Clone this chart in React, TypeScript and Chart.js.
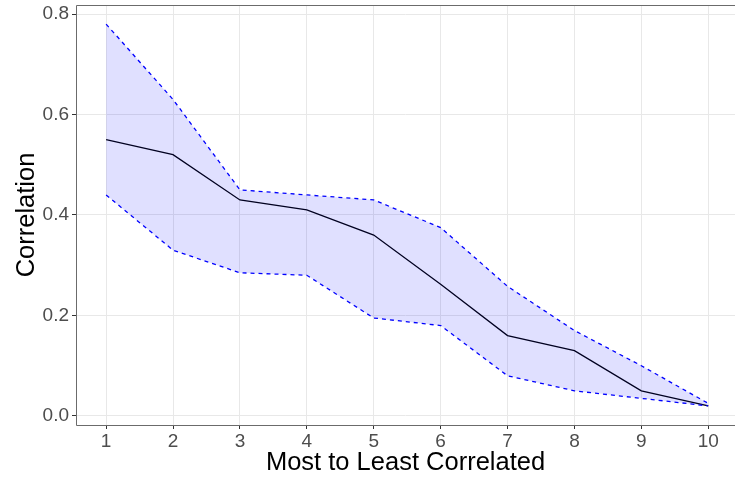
import React, { useEffect, useRef } from 'react';
import { Chart, registerables } from 'chart.js';

Chart.register(...registerables);

const ranks = [1, 2, 3, 4, 5, 6, 7, 8, 9, 10];
const meanCorr = [0.55, 0.52, 0.43, 0.41, 0.36, 0.262, 0.16, 0.13, 0.05, 0.02];
const upperCorr = [0.78, 0.63, 0.45, 0.44, 0.43, 0.375, 0.258, 0.17, 0.1, 0.025];
const lowerCorr = [0.44, 0.33, 0.285, 0.28, 0.195, 0.18, 0.08, 0.05, 0.035, 0.02];
const yTicks = [0, 0.2, 0.4, 0.6, 0.8];
const xTitle = 'Most to Least Correlated';
const yTitle = 'Correlation';

const FONT = "'Liberation Sans', Arial, Helvetica, sans-serif";

const panelBorder = {
  id: 'panelBorder',
  afterDraw(chart: any) {
    const { ctx, chartArea } = chart;
    const { left, top, right, bottom } = chartArea;
    ctx.save();
    ctx.strokeStyle = '#6b6b6b';
    ctx.lineWidth = 1;
    ctx.beginPath();
    ctx.rect(left + 0.5, top + 0.5, right - left, bottom - top);
    ctx.stroke();
    ctx.restore();
  },
};

export default function App() {
  const ref = useRef<HTMLCanvasElement | null>(null);

  useEffect(() => {
    if (!ref.current) return;
    const pts = (arr: number[]) => ranks.map((r, i) => ({ x: r, y: arr[i] }));
    const chart = new Chart(ref.current, {
      type: 'line',
      data: {
        datasets: [
          {
            label: 'upper',
            data: pts(upperCorr),
            borderColor: '#0000ff',
            borderWidth: 1.3,
            borderDash: [4, 4],
            pointRadius: 0,
            tension: 0,
            fill: '+1',
            backgroundColor: 'rgba(0,0,255,0.12)',
          },
          {
            label: 'lower',
            data: pts(lowerCorr),
            borderColor: '#0000ff',
            borderWidth: 1.3,
            borderDash: [4, 4],
            pointRadius: 0,
            tension: 0,
            fill: false,
          },
          {
            label: 'mean',
            data: pts(meanCorr),
            borderColor: '#000000',
            borderWidth: 1.3,
            pointRadius: 0,
            tension: 0,
            fill: false,
          },
        ],
      },
      options: {
        animation: false,
        responsive: false,
        maintainAspectRatio: false,
        layout: { padding: { top: 5, right: 0, bottom: 0, left: 0 } },
        plugins: {
          legend: { display: false },
          tooltip: { enabled: false },
        },
        scales: {
          x: {
            type: 'linear',
            min: 0.55,
            max: 10.4,
            afterBuildTicks: (scale: any) => {
              scale.ticks = ranks.map((v) => ({ value: v }));
            },
            afterFit: (scale: any) => {
              scale.height = 58;
              scale.paddingLeft = 0;
              scale.paddingRight = 0;
            },
            grid: {
              color: '#e8e8e8',
              lineWidth: 1,
              tickColor: '#333333',
              tickLength: 4,
            },
            border: { display: false },
            ticks: {
              font: { family: FONT, size: 19 },
              color: '#4d4d4d',
              padding: 1,
              maxRotation: 0,
              autoSkip: false,
              callback: (v: any) => String(v),
            },
            title: {
              display: true,
              text: xTitle,
              color: '#000000',
              font: { family: FONT, size: 25.5 },
              padding: { top: 0, bottom: 5 },
            },
          },
          y: {
            type: 'linear',
            min: -0.018,
            max: 0.818,
            afterBuildTicks: (scale: any) => {
              scale.ticks = yTicks.map((v) => ({ value: v }));
            },
            afterFit: (scale: any) => {
              scale.width = 76;
              scale.paddingTop = 0;
              scale.paddingBottom = 0;
            },
            grid: {
              color: '#e8e8e8',
              lineWidth: 1,
              tickColor: '#333333',
              tickLength: 4,
            },
            border: { display: false },
            ticks: {
              font: { family: FONT, size: 19 },
              color: '#4d4d4d',
              padding: 3,
              callback: (v: any) => Number(v).toFixed(1),
            },
            title: {
              display: true,
              text: yTitle,
              color: '#000000',
              font: { family: FONT, size: 25.5 },
              padding: { top: 12, bottom: 0 },
            },
          },
        },
      },
      plugins: [panelBorder],
    });
    return () => chart.destroy();
  }, []);

  return (
    <div style={{ position: 'fixed', left: 0, top: 0, width: 735, height: 483, background: '#ffffff' }}>
      <canvas ref={ref} width={735} height={483} style={{ width: 735, height: 483, display: 'block' }} />
    </div>
  );
}
